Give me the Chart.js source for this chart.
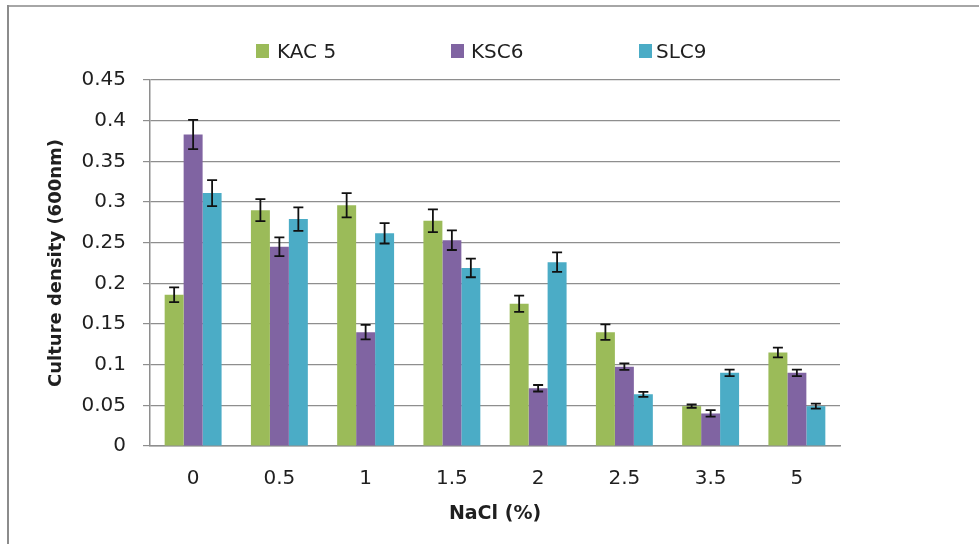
<!DOCTYPE html>
<html>
<head>
<meta charset="utf-8">
<script src="https://cdn.jsdelivr.net/npm/chart.js@4.4.1/dist/chart.umd.min.js"></script>
<style>
  html, body { margin: 0; padding: 0; background: #fff; }
  #wrap { position: relative; width: 979px; height: 544px; overflow: hidden; background: #fff; }
  #c { position: absolute; left: 0; top: 0; }
  .bt { position: absolute; left: 8px; top: 5px; width: 971px; height: 2px; background: #a6a6a6; }
  .bl { position: absolute; left: 7px; top: 5px; width: 2px; height: 539px; background: #8c8c8c; }
  .lg { position: absolute; top: 0; height: 0; font-family: "DejaVu Sans", sans-serif; font-size: 20px; color: #1f1f1f; }
  .lg .sq { position: absolute; top: 44px; width: 13px; height: 14px; }
  .lg .tx { position: absolute; top: 38px; white-space: nowrap; line-height: 26px; }
</style>
</head>
<body>
<div id="wrap">
  <canvas id="c" width="979" height="544"></canvas>
  <div class="bt"></div>
  <div class="bl"></div>
  <div id="legend"></div>
</div>
<script>
const categories = ['0', '0.5', '1', '1.5', '2', '2.5', '3.5', '5'];
const seriesNames = ['KAC 5', 'KSC6', 'SLC9'];
const kac5 = [0.186, 0.290, 0.296, 0.277, 0.175, 0.140, 0.049, 0.115];
const kac5Err = [0.009, 0.0135, 0.015, 0.014, 0.010, 0.0095, 0.002, 0.006];
const ksc6 = [0.383, 0.245, 0.140, 0.253, 0.071, 0.0975, 0.040, 0.090];
const ksc6Err = [0.018, 0.0115, 0.009, 0.012, 0.004, 0.004, 0.004, 0.004];
const slc9 = [0.311, 0.279, 0.2615, 0.219, 0.226, 0.0635, 0.090, 0.049];
const slc9Err = [0.016, 0.0145, 0.0125, 0.0115, 0.012, 0.003, 0.004, 0.003];
const yTickLabels = ['0', '0.05', '0.1', '0.15', '0.2', '0.25', '0.3', '0.35', '0.4', '0.45'];
const xTitle = 'NaCl (%)';
const yTitle = 'Culture density (600nm)';

const colors = ['#9BBB59', '#8064A2', '#4BACC6'];
const values = [kac5, ksc6, slc9];
const errors = [kac5Err, ksc6Err, slc9Err];

// HTML legend
const legendPos = [[256, 277], [451, 471], [639, 656]];
const lg = document.getElementById('legend');
seriesNames.forEach((n, i) => {
  const d = document.createElement('div');
  d.className = 'lg';
  d.innerHTML = '<span class="sq" style="left:' + legendPos[i][0] + 'px;background:' + colors[i] + '"></span>' +
                '<span class="tx" style="left:' + legendPos[i][1] + 'px">' + n + '</span>';
  lg.appendChild(d);
});

const errorBars = {
  id: 'errorBars',
  afterDatasetsDraw(chart) {
    const ctx = chart.ctx;
    const y = chart.scales.y;
    ctx.save();
    ctx.strokeStyle = '#111111';
    ctx.lineWidth = 1.8;
    chart.data.datasets.forEach((ds, di) => {
      const meta = chart.getDatasetMeta(di);
      meta.data.forEach((bar, i) => {
        const v = ds.data[i], e = ds.errors[i];
        const top = y.getPixelForValue(v + e);
        const bot = y.getPixelForValue(v - e);
        const x = bar.x;
        const hw = 5;
        ctx.beginPath();
        ctx.moveTo(x, top); ctx.lineTo(x, bot);
        ctx.moveTo(x - hw, top); ctx.lineTo(x + hw, top);
        ctx.moveTo(x - hw, bot); ctx.lineTo(x + hw, bot);
        ctx.stroke();
      });
    });
    ctx.restore();
  }
};

const gridColor = '#8e8e8e';
const textColor = '#1f1f1f';

new Chart(document.getElementById('c'), {
  type: 'bar',
  data: {
    labels: categories,
    datasets: seriesNames.map((n, i) => ({
      label: n,
      data: values[i],
      errors: errors[i],
      backgroundColor: colors[i],
      borderWidth: 0,
      categoryPercentage: 0.66,
      barPercentage: 1.0
    }))
  },
  options: {
    responsive: false,
    animation: false,
    devicePixelRatio: 1,
    layout: { padding: { left: 0, right: 139, top: 80, bottom: 0 } },
    plugins: { legend: { display: false }, tooltip: { enabled: false } },
    scales: {
      x: {
        grid: { display: false, drawTicks: false },
        border: { display: true, color: gridColor, width: 1.5 },
        ticks: { color: textColor, font: { family: 'DejaVu Sans', size: 20 }, padding: 21, maxRotation: 0 },
        title: { display: true, text: xTitle, color: textColor, font: { family: 'DejaVu Sans', size: 19, weight: 'bold' }, padding: { top: 0, bottom: 19 } },
        afterFit(s) { s.height = 98; }
      },
      y: {
        min: 0, max: 0.45,
        grid: { color: gridColor, lineWidth: 1.2, tickLength: 7, tickColor: gridColor },
        border: { display: true, color: gridColor, width: 1.5 },
        ticks: {
          stepSize: 0.05, color: textColor, padding: 17,
          font: { family: 'DejaVu Sans', size: 20 },
          callback: (v, i) => yTickLabels[i]
        },
        title: { display: true, text: yTitle, color: textColor, font: { family: 'DejaVu Sans', size: 18, weight: 'bold' }, padding: { top: 46, bottom: 0 } },
        afterFit(s) { s.width = 150; }
      }
    }
  },
  plugins: [errorBars]
});
</script>
</body>
</html>
